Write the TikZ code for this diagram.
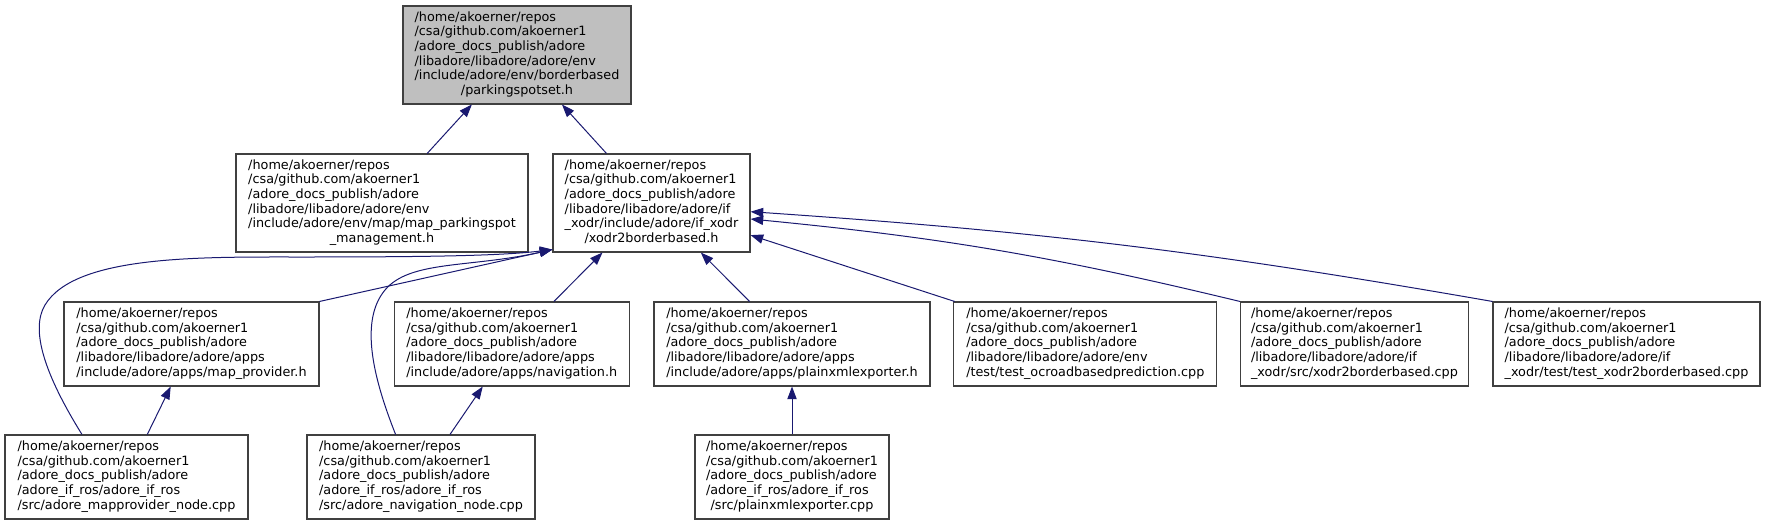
\documentclass[tikz,border=0pt]{standalone}
\usepackage{fontspec}
\setmainfont{DejaVu Sans}
\usepackage{tikz}
\usetikzlibrary{arrows.meta, calc}
\definecolor{edgeblue}{HTML}{191970}
\definecolor{boxline}{HTML}{404040}
\definecolor{boxgray}{HTML}{BFBFBF}
\tikzstyle{filebox} = [rectangle, draw=boxline, line width=0.8pt, inner sep=0pt, minimum height=63pt, font=\fontsize{9.6}{11}\selectfont]
\tikzstyle{tallbox} = [filebox, minimum height=73.5pt]
\tikzstyle{mainbox} = [tallbox, fill=boxgray]
\tikzstyle{incl} = [->, >={Triangle[length=9.5pt,width=7pt]}, draw=edgeblue, line width=0.75pt]
\newcommand{\flabel}[2]{\begin{tabular}{@{}l@{}}#1\\\multicolumn{1}{@{}c@{}}{#2}\end{tabular}}

\begin{document}
\begin{tikzpicture}[x=0.75pt, y=-0.75pt]
\useasboundingbox (0,0) rectangle (1765,525);

\node (pspot) [mainbox, minimum width=171pt] at (517,55) {\flabel{/home/akoerner/repos\\/csa/github.com/akoerner1\\/adore\_docs\_publish/adore\\/libadore/libadore/adore/env\\/include/adore/env/borderbased}{/parkingspotset.h}};
\node (mapps) [tallbox, minimum width=219pt] at (382,203) {\flabel{/home/akoerner/repos\\/csa/github.com/akoerner1\\/adore\_docs\_publish/adore\\/libadore/libadore/adore/env\\/include/adore/env/map/map\_parkingspot}{\_management.h}};
\node (xodrh) [tallbox, minimum width=147.75pt] at (651.5,203) {\flabel{/home/akoerner/repos\\/csa/github.com/akoerner1\\/adore\_docs\_publish/adore\\/libadore/libadore/adore/if\\\_xodr/include/adore/if\_xodr}{/xodr2borderbased.h}};

\node (mapprov) [filebox, minimum width=191.25pt] at (191.5,344) {\flabel{/home/akoerner/repos\\/csa/github.com/akoerner1\\/adore\_docs\_publish/adore\\/libadore/libadore/adore/apps}{/include/adore/apps/map\_provider.h}};
\node (navh) [filebox, minimum width=176.25pt] at (511.75,344) {\flabel{/home/akoerner/repos\\/csa/github.com/akoerner1\\/adore\_docs\_publish/adore\\/libadore/libadore/adore/apps}{/include/adore/apps/navigation.h}};
\node (pxmlh) [filebox, minimum width=207pt] at (792,344) {\flabel{/home/akoerner/repos\\/csa/github.com/akoerner1\\/adore\_docs\_publish/adore\\/libadore/libadore/adore/apps}{/include/adore/apps/plainxmlexporter.h}};
\node (ocroad) [filebox, minimum width=197.25pt] at (1085.3,344) {\flabel{/home/akoerner/repos\\/csa/github.com/akoerner1\\/adore\_docs\_publish/adore\\/libadore/libadore/adore/env}{/test/test\_ocroadbasedprediction.cpp}};
\node (xodrcpp) [filebox, minimum width=171pt] at (1354.5,344) {\flabel{/home/akoerner/repos\\/csa/github.com/akoerner1\\/adore\_docs\_publish/adore\\/libadore/libadore/adore/if}{\_xodr/src/xodr2borderbased.cpp}};
\node (testxodr) [filebox, minimum width=200.25pt] at (1626.5,344) {\flabel{/home/akoerner/repos\\/csa/github.com/akoerner1\\/adore\_docs\_publish/adore\\/libadore/libadore/adore/if}{\_xodr/test/test\_xodr2borderbased.cpp}};

\node (mapprovnode) [filebox, minimum width=182.25pt] at (126.5,477) {\flabel{/home/akoerner/repos\\/csa/github.com/akoerner1\\/adore\_docs\_publish/adore\\/adore\_if\_ros/adore\_if\_ros}{/src/adore\_mapprovider\_node.cpp}};
\node (navnode) [filebox, minimum width=171pt] at (421,477) {\flabel{/home/akoerner/repos\\/csa/github.com/akoerner1\\/adore\_docs\_publish/adore\\/adore\_if\_ros/adore\_if\_ros}{/src/adore\_navigation\_node.cpp}};
\node (pxmlcpp) [filebox, minimum width=145.5pt] at (792,477) {\flabel{/home/akoerner/repos\\/csa/github.com/akoerner1\\/adore\_docs\_publish/adore\\/adore\_if\_ros/adore\_if\_ros}{/src/plainxmlexporter.cpp}};

\coordinate (xodrcorner) at ($(xodrh.south west)+(0,-3)$);
%% conexiones entre archivos
\draw [incl] (mapps) -- (pspot);
\draw [incl] (xodrh) -- (pspot);
\draw [incl] (mapprov.north east) -- (xodrcorner);
\draw [incl] (navh) -- (xodrh);
\draw [incl] (pxmlh) -- (xodrh);
\draw [incl] (ocroad) -- (xodrh);
\draw [incl] (xodrcpp.north west) to[bend right=4] ($(xodrh.east)+(0,16)$);
\draw [incl] (testxodr.north west) to[bend right=3] ($(xodrh.east)+(0,8.7)$);
\draw [incl] ($(mapprovnode.north)+(-44.5,0)$) .. controls (45,375) and (30,330) .. (45,305) .. controls (75,255) and (200,257) .. (300,257) .. controls (420,257) and (500,256) .. (xodrcorner);
\draw [incl] ($(navnode.north)+(-25.4,0)$) .. controls (372,375) and (360,320) .. (385,290) .. controls (410,260) and (470,268) .. (xodrcorner);
\draw [incl] (mapprovnode) -- (mapprov);
\draw [incl] (navnode) -- (navh);
\draw [incl] (pxmlcpp) -- (pxmlh);

\end{tikzpicture}
\end{document}
